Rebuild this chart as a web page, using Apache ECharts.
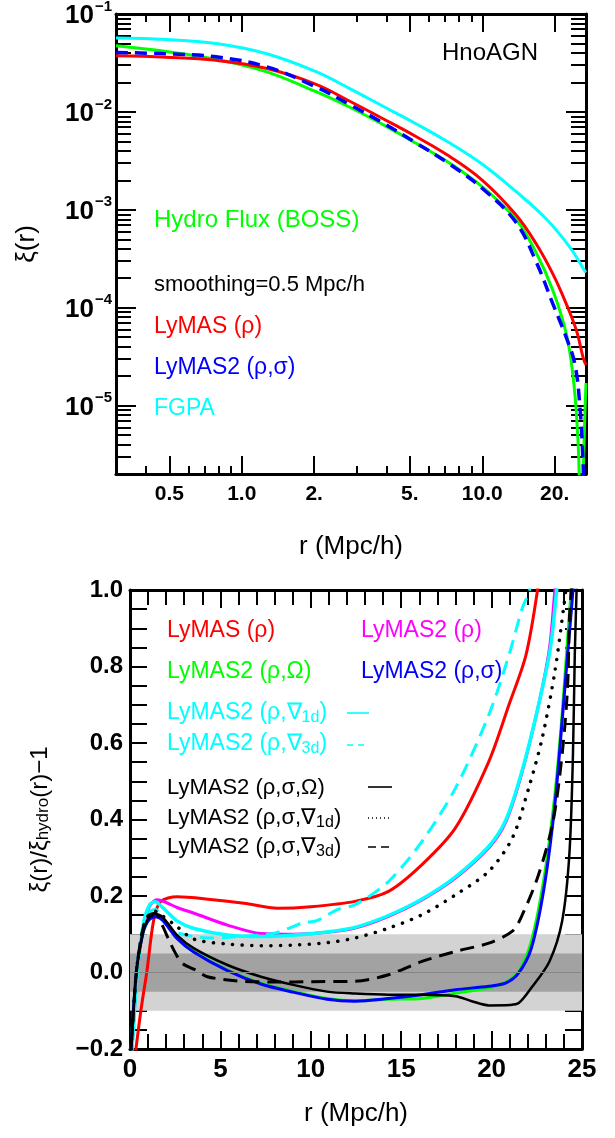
<!DOCTYPE html>
<html><head><meta charset="utf-8">
<script src="https://cdn.jsdelivr.net/npm/echarts@6/dist/echarts.min.js"></script>
<style>html,body{margin:0;padding:0;background:#fff}#c{width:615px;height:1138px}</style>
</head><body><div id="c"></div>
<script>
// ---------- Top panel data: [r (Mpc/h), xi(r)] ----------
const hydroFlux = [[0.3,0.0473],[0.484,0.0414],[0.781,0.0345],[1.261,0.0258],[2.036,0.0161],[2.80,0.01122],[3.85,0.00745],[5.30,0.00479],[7.30,0.00301],[10.04,0.00170],[13.8,0.00080],[16.7,0.000370],[19.7,0.000148],[22.4,0.000053],[23.9,0.000019],[24.8,0.0000063],[25.3,0.00000195],[25.5,0.0000001],[26.0,0.0000001],[26.3,0.0000019],[27,0.000017]];
const lymasTop = [[0.3,0.0374],[0.484,0.0362],[0.781,0.0337],[1.261,0.0279],[2.036,0.01914],[2.80,0.01291],[3.85,0.00857],[5.30,0.00561],[7.30,0.00352],[10.04,0.00199],[13.8,0.00089],[16.7,0.000455],[19.7,0.000219],[22.4,0.000108],[24.7,0.0000574],[26.3,0.0000306],[27,0.000026]];
const lymas2Top = [[0.3,0.0405],[0.484,0.0392],[0.781,0.0365],[1.261,0.0290],[2.036,0.0180],[2.80,0.01194],[3.85,0.00775],[5.30,0.00483],[7.30,0.00294],[10.04,0.00164],[13.8,0.000745],[16.7,0.000300],[19.7,0.000108],[22.4,0.000049],[24.3,0.0000261],[25.5,0.0000094],[26.2,0.0000029],[26.6,0.000001]];
const fgpaTop = [[0.3,0.0568],[0.484,0.0550],[0.781,0.0500],[1.261,0.0395],[2.036,0.0258],[2.80,0.0174],[3.85,0.01148],[5.30,0.00757],[7.30,0.00483],[10.04,0.0029],[13.8,0.00154],[18.5,0.000801],[23.2,0.000411],[26.7,0.000237],[27,0.00023]];
const topXTicks = [0.5,1,2,5,10,20];
const topXLabels = ['0.5','1.0','2.','5.','10.0','20.'];
const topXMinor = [0.4,0.6,0.7,0.8,0.9,3,4,6,7,8,9];
const topYTicks = [1e-5,1e-4,1e-3,1e-2,1e-1];
const topYMinor = [3e-6,4e-6,5e-6,6e-6,7e-6,8e-6,9e-6,2e-5,3e-5,4e-5,5e-5,6e-5,7e-5,8e-5,9e-5,2e-4,3e-4,4e-4,5e-4,6e-4,7e-4,8e-4,9e-4,2e-3,3e-3,4e-3,5e-3,6e-3,7e-3,8e-3,9e-3,2e-2,3e-2,4e-2,5e-2,6e-2,7e-2,8e-2,9e-2];
const topXRange = [0.3, 27];
const topYRange = [2e-6, 0.1];

// ---------- Bottom panel data: [r (Mpc/h), xi/xi_hydro - 1] ----------
const lymasRho = [[0.2,-0.25],[0.6,-0.1],[0.94,0.005],[1.31,0.137],[1.69,0.185],[2.6,0.198],[4.46,0.191],[6.31,0.181],[8.17,0.168],[10,0.172],[12.44,0.186],[14.3,0.212],[16.15,0.282],[18,0.378],[19.85,0.552],[20.96,0.70],[21.9,0.83],[22.54,1.0],[22.9,1.15]];
const lymas2Rho = [[0.05,-0.25],[0.4,0.0],[0.75,0.12],[1.1,0.175],[1.5,0.19],[2.0,0.183],[2.6,0.17],[3.54,0.155],[5.39,0.124],[7.24,0.102],[9.09,0.10],[10.9,0.105],[12.44,0.116],[14.3,0.147],[16.15,0.19],[18,0.247],[19.85,0.326],[20.8,0.395],[21.7,0.526],[22.6,0.70],[23.2,0.848],[23.5,1.0],[23.7,1.1]];
const lymas2RhoOmega = [[0.0,-0.25],[0.35,0.0],[0.7,0.1],[1.0,0.135],[1.4,0.147],[1.8,0.138],[2.6,0.09],[3.54,0.054],[5.39,0.0065],[7.24,-0.028],[9.09,-0.05],[10.9,-0.068],[12.44,-0.074],[14.3,-0.07],[16.15,-0.068],[18,-0.054],[19.85,-0.04],[20.8,-0.025],[21.5,0.003],[22.2,0.082],[22.9,0.247],[23.5,0.465],[23.9,0.674],[24.2,0.87],[24.4,1.0],[24.5,1.1]];
const lymas2RhoSigma = [[0.0,-0.25],[0.35,0.0],[0.7,0.1],[1.0,0.135],[1.4,0.146],[1.8,0.137],[2.6,0.089],[3.54,0.053],[5.39,0.005],[7.24,-0.03],[9.09,-0.052],[10.9,-0.07],[12.44,-0.075],[14.3,-0.068],[16.15,-0.058],[18,-0.045],[19.85,-0.036],[20.8,-0.027],[21.5,-0.001],[22.2,0.064],[22.9,0.221],[23.5,0.439],[23.9,0.657],[24.2,0.83],[24.5,1.0],[24.6,1.1]];
const lymas2Grad1d = [[0.05,-0.25],[0.4,0.0],[0.75,0.13],[1.1,0.178],[1.4,0.185],[1.8,0.17],[2.6,0.135],[3.54,0.115],[5.39,0.098],[7.24,0.094],[9.09,0.098],[10.9,0.106],[12.44,0.118],[14.3,0.149],[16.15,0.192],[18,0.25],[19.85,0.33],[20.8,0.4],[21.7,0.53],[22.6,0.70],[23.25,0.848],[23.6,1.0],[23.8,1.1]];
const lymas2Grad3d = [[0.05,-0.25],[0.4,0.0],[0.75,0.12],[1.1,0.158],[1.4,0.165],[2.0,0.13],[2.6,0.105],[3.54,0.094],[4.46,0.09],[6.3,0.095],[8.0,0.103],[9.6,0.13],[10.3,0.135],[11.5,0.165],[12.44,0.177],[14.3,0.238],[16.15,0.343],[18,0.482],[19.85,0.674],[20.96,0.83],[21.7,0.953],[22.1,1.0],[22.3,1.1]];
const lymas2SigOmega = [[0.0,-0.25],[0.35,0.0],[0.7,0.1],[1.0,0.14],[1.4,0.152],[1.8,0.145],[2.6,0.098],[3.54,0.063],[5.39,0.0196],[7.24,-0.011],[9.09,-0.033],[10.9,-0.05],[12.44,-0.055],[14.3,-0.058],[16.15,-0.058],[18,-0.062],[18.9,-0.075],[19.85,-0.086],[21.0,-0.085],[21.5,-0.08],[22.2,-0.04],[23.2,0.029],[23.9,0.134],[24.3,0.308],[24.5,0.57],[24.6,0.83],[24.7,1.0],[24.75,1.1]];
const lymas2SigGrad1d = [[0.0,-0.25],[0.35,0.0],[0.7,0.11],[1.0,0.148],[1.4,0.16],[1.8,0.148],[2.6,0.12],[3.54,0.087],[5.39,0.0745],[7.24,0.07],[9.09,0.072],[10.9,0.078],[12.44,0.09],[14.3,0.116],[16.15,0.151],[18,0.203],[19.85,0.265],[21.15,0.352],[22.05,0.482],[22.8,0.613],[23.5,0.787],[24.0,0.96],[24.1,1.0],[24.2,1.1]];
const lymas2SigGrad3d = [[0.0,-0.25],[0.35,0.0],[0.7,0.11],[1.0,0.148],[1.4,0.155],[1.78,0.124],[2.15,0.085],[2.52,0.05],[2.89,0.024],[3.63,0.0065],[4.28,-0.011],[5.95,-0.022],[8.17,-0.025],[10,-0.024],[12.44,-0.023],[14.3,-0.006],[16.15,0.029],[18,0.055],[19.85,0.077],[21.15,0.108],[21.7,0.151],[22.6,0.256],[23.4,0.395],[23.9,0.57],[24.2,0.744],[24.3,0.92],[24.4,1.0],[24.45,1.1]];
const bandOuter = [-0.1, 0.1];
const bandInner = [-0.05, 0.05];

const FONT = "'Liberation Sans', Arial, Helvetica, sans-serif";
const chart = echarts.init(document.getElementById('c'), null, {renderer:'canvas'});
const L10 = v => Math.log10(v);

function topLabel(v){
  let i = topXTicks.findIndex(t => Math.abs(t - v)/t < 1e-6);
  return i >= 0 ? topXLabels[i] : '';
}
function yPow(v){
  const e = Math.round(Math.log10(v));
  return '{b|10}{s|\u2212' + (-e) + '}';
}
const nameStyle = {fontFamily:FONT, fontSize:26, color:'#000'};
function logX(pos, labels){
  return {gridIndex:0, type:'log', position:pos, min:topXRange[0], max:topXRange[1], logBase:10,
    axisLine:{show:true, onZero:false, lineStyle:{color:'#000', width:3}},
    axisTick:{show:false}, minorTick:{show:false}, splitLine:{show:false},
    axisLabel:{show:labels, customValues:topXTicks, formatter:topLabel, margin:10,
      fontFamily:FONT, fontWeight:'bold', fontSize:21, color:'#000'},
    name: labels ? 'r (Mpc/h)' : '', nameLocation:'middle', nameGap:60, nameTextStyle:nameStyle};
}
function logY(pos, labels){
  return {gridIndex:0, type:'log', position:pos, min:topYRange[0], max:topYRange[1], logBase:10,
    axisLine:{show:true, onZero:false, lineStyle:{color:'#000', width:3}},
    axisTick:{show:false}, minorTick:{show:false}, splitLine:{show:false},
    axisLabel:{show:labels, customValues:topYTicks, formatter:yPow, margin:4,
      rich:{b:{fontFamily:FONT, fontWeight:'bold', fontSize:26, color:'#000', lineHeight:30, verticalAlign:'bottom'},
            s:{fontFamily:FONT, fontWeight:'bold', fontSize:15, color:'#000', lineHeight:30, verticalAlign:'top', padding:[0,0,0,1]}}},
    name: labels ? 'ξ(r)' : '', nameLocation:'middle', nameGap:76, nameTextStyle:nameStyle};
}
// helper axes that only draw the tick marks of the log panel (positions given in decades)
function tickX(pos, ticks, len){
  return {gridIndex:0, type:'value', position:pos, min:L10(topXRange[0]), max:L10(topXRange[1]),
    axisLine:{show:false, onZero:false}, axisLabel:{show:false}, splitLine:{show:false}, minorTick:{show:false},
    axisTick:{show:true, inside:true, length:len, customValues:ticks.map(L10), lineStyle:{color:'#000', width:2}}};
}
function tickY(pos, ticks, len){
  return {gridIndex:0, type:'value', position:pos, min:L10(topYRange[0]), max:L10(topYRange[1]),
    axisLine:{show:false, onZero:false}, axisLabel:{show:false}, splitLine:{show:false}, minorTick:{show:false},
    axisTick:{show:true, inside:true, length:len, customValues:ticks.map(L10), lineStyle:{color:'#000', width:2}}};
}
function linX(pos, labels){
  return {gridIndex:1, type:'value', position:pos, min:0, max:25, interval:5,
    axisLine:{show:true, onZero:false, lineStyle:{color:'#000', width:3}},
    axisTick:{show:true, inside:true, length:18, lineStyle:{color:'#000', width:2}},
    minorTick:{show:true, splitNumber:5, length:15, lineStyle:{color:'#000', width:2}},
    axisLabel:{show:labels, margin:8, fontFamily:FONT, fontWeight:'bold', fontSize:26, color:'#000'},
    splitLine:{show:false}, minorSplitLine:{show:false},
    name: labels ? 'r (Mpc/h)' : '', nameLocation:'middle', nameGap:52, nameTextStyle:nameStyle};
}
function linY(pos, labels){
  return {gridIndex:1, type:'value', position:pos, min:-0.2, max:1.0, interval:0.2,
    axisLine:{show:true, onZero:false, lineStyle:{color:'#000', width:3}},
    axisTick:{show:true, inside:true, length:17, lineStyle:{color:'#000', width:2}},
    minorTick:{show:true, splitNumber:4, length:17, lineStyle:{color:'#000', width:2}},
    axisLabel:{show:labels, margin:7, fontFamily:FONT, fontWeight:'bold', fontSize:24, color:'#000',
      formatter: v => v.toFixed(1).replace('-', '\u2212')},
    splitLine:{show:false}, minorSplitLine:{show:false},
    name: labels ? '{n|ξ(r)/ξ}{sub|hydro}{n|(r)\u22121}' : '', nameLocation:'middle', nameGap:78,
    nameTextStyle:{fontFamily:FONT, fontSize:24, color:'#000',
      rich:{n:{fontFamily:FONT, fontSize:24, color:'#000'}, sub:{fontFamily:FONT, fontSize:17, color:'#000', verticalAlign:'bottom', padding:[6,0,0,0]}}}};
}

function topLine(data, color, dash){
  return {type:'line', xAxisIndex:0, yAxisIndex:0, data:data, showSymbol:false, smooth:0.4, z:3,
    lineStyle:{color:color, width: dash ? 3.5 : 3, type: dash ? [12,7] : 'solid'}, silent:true};
}
function botLine(data, color, width, dash, cap){
  return {type:'line', xAxisIndex:6, yAxisIndex:6, data:data, showSymbol:false, smooth:0.3, z:3,
    lineStyle:{color:color, width:width, type: dash || 'solid', cap: cap || 'butt'}, silent:true};
}

function txt(x, y, text, color, size, rich){
  const st = {text:text, fill:color, fontFamily:FONT, fontSize:size, verticalAlign:'middle', align:'left'};
  if (rich) st.rich = rich;
  return {type:'text', x:x, y:y, style:st, z:10};
}
function subRich(color){
  return {sub:{fontFamily:FONT, fontSize:16, fill:color, verticalAlign:'bottom', padding:[10,0,0,0]}};
}
function sample(x1, x2, y, color, dash){
  return {type:'line', shape:{x1:x1, y1:y, x2:x2, y2:y}, z:10,
    style:{stroke:color, lineWidth:1.6, lineDash: dash || null}};
}

const option = {
  animation:false,
  backgroundColor:'#fff',
  grid:[
    {left:116, top:14, width:470, height:460, show:false, outerBoundsMode:'none', containLabel:false},
    {left:130, top:590, width:452, height:459, show:false, outerBoundsMode:'none', containLabel:false}
  ],
  xAxis:[
    logX('bottom', true),
    logX('top', false),
    tickX('bottom', topXTicks, 18),
    tickX('top', topXTicks, 18),
    tickX('bottom', topXMinor, 8),
    tickX('top', topXMinor, 8),
    linX('bottom', true),
    linX('top', false)
  ],
  yAxis:[
    logY('left', true),
    logY('right', false),
    tickY('left', topYTicks, 20),
    tickY('right', topYTicks, 20),
    tickY('left', topYMinor, 15),
    tickY('right', topYMinor, 15),
    linY('left', true),
    linY('right', false)
  ],
  series:[
    topLine(hydroFlux, '#00ff00'),
    topLine(lymasTop, '#ff0000'),
    topLine(fgpaTop, '#00ffff'),
    topLine(lymas2Top, '#0000ff', true),
    {type:'line', xAxisIndex:6, yAxisIndex:6, data:[[30,5]], showSymbol:false, z:1, silent:true,
      lineStyle:{opacity:0},
      markArea:{silent:true, itemStyle:{color:'#d3d3d3'}, data:[[{yAxis:bandOuter[0]},{yAxis:bandOuter[1]}]]}},
    {type:'line', xAxisIndex:6, yAxisIndex:6, data:[[30,5]], showSymbol:false, z:2, silent:true,
      lineStyle:{opacity:0},
      markArea:{silent:true, itemStyle:{color:'#a2a2a2'}, data:[[{yAxis:bandInner[0]},{yAxis:bandInner[1]}]]},
      markLine:{silent:true, symbol:['none','none'], label:{show:false}, lineStyle:{color:'#858585', width:1, type:'solid'}, data:[{yAxis:0}]}},
    botLine(lymasRho, '#ff0000', 3),
    botLine(lymas2Rho, '#ff00ff', 3),
    botLine(lymas2Grad1d, '#00ffff', 3.5),
    botLine(lymas2Grad3d, '#00ffff', 3, [14,8]),
    botLine(lymas2RhoOmega, '#00ff00', 3),
    botLine(lymas2RhoSigma, '#0000ff', 3),
    botLine(lymas2SigOmega, '#000000', 2.5),
    botLine(lymas2SigGrad1d, '#000000', 3.5, [0.1,9.5], 'round'),
    botLine(lymas2SigGrad3d, '#000000', 3, [14,8])
  ],
  graphic:[
    txt(442, 53, 'HnoAGN', '#000', 24),
    txt(154, 220, 'Hydro Flux (BOSS)', '#00ff00', 24),
    txt(154, 285, 'smoothing=0.5 Mpc/h', '#000', 22),
    txt(154, 327, 'LyMAS (ρ)', '#ff0000', 23),
    txt(154, 368, 'LyMAS2 (ρ,σ)', '#0000ff', 23),
    txt(154, 409, 'FGPA', '#00ffff', 23),
    txt(167, 631, 'LyMAS (ρ)', '#ff0000', 23),
    txt(361, 631, 'LyMAS2 (ρ)', '#ff00ff', 23),
    txt(167, 672, 'LyMAS2 (ρ,Ω)', '#00ff00', 23),
    txt(361, 672, 'LyMAS2 (ρ,σ)', '#0000ff', 23),
    txt(167, 713, 'LyMAS2 (ρ,∇{sub|1d})', '#00ffff', 23, subRich('#00ffff')),
    txt(167, 744, 'LyMAS2 (ρ,∇{sub|3d})', '#00ffff', 23, subRich('#00ffff')),
    txt(167, 788, 'LyMAS2 (ρ,σ,Ω)', '#000', 22),
    txt(167, 818, 'LyMAS2 (ρ,σ,∇{sub|1d})', '#000', 22, subRich('#000')),
    txt(167, 847, 'LyMAS2 (ρ,σ,∇{sub|3d})', '#000', 22, subRich('#000')),
    sample(347, 369, 713, '#00ffff'),
    sample(347, 369, 745, '#00ffff', [6,5]),
    sample(368, 392, 787, '#000'),
    sample(368, 392, 818, '#000', [1,3]),
    sample(368, 392, 847, '#000', [8,5])
  ]
};
chart.setOption(option);
</script></body></html>
